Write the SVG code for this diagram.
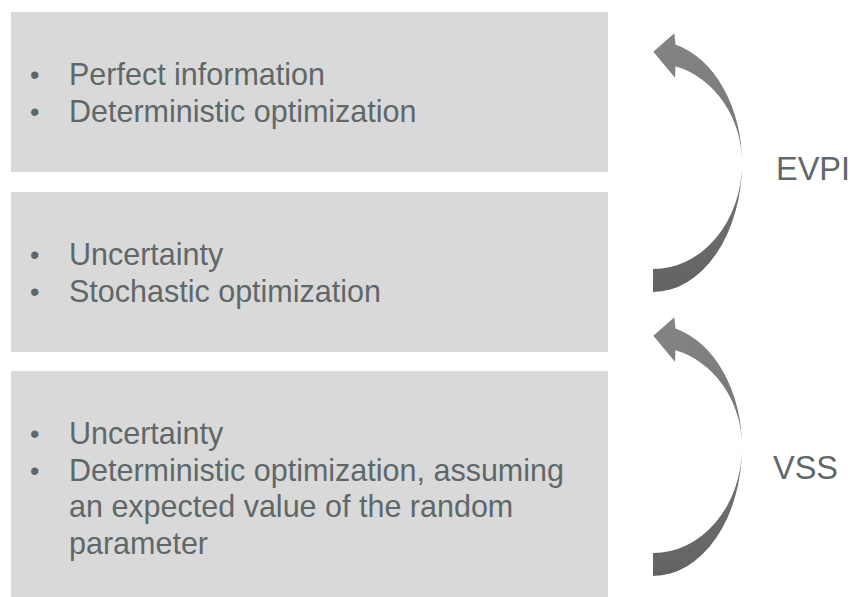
<svg xmlns="http://www.w3.org/2000/svg" width="852" height="597" viewBox="0 0 852 597">
  <defs>
    <!-- vertical shading of the curved arrows -->
    <linearGradient id="arrowShade" x1="0" y1="0" x2="0" y2="1">
      <stop offset="0" stop-color="#858585"/>
      <stop offset="1" stop-color="#636363"/>
    </linearGradient>
    <!-- curved left arrow: head at top-left, body bulging to the right -->
    <path id="curvedArrow" d="M653.3,51.7 L674.3,33.3 L675.5,44.5 A89,122.5 0 0 1 742,163 A89,129 0 0 1 653,292 L653,269 A89,106 0 0 0 742,163 A89,100 0 0 0 675.5,66.3 L675,77.7 Z"/>
  </defs>
  <style>
    .box { fill: #d9d9d9; }
    .txt { font-family: "Liberation Sans", Arial, sans-serif; font-size: 30.5px; fill: #5f6869; }
    .bul { font-family: "Liberation Sans", Arial, sans-serif; font-size: 27px; fill: #5f6869; }
    .lbl { font-family: "Liberation Sans", Arial, sans-serif; font-size: 32.5px; fill: #5f6869; }
    .arrow { fill: url(#arrowShade); }
  </style>

  <rect width="852" height="597" fill="#ffffff"/>

  <g id="box-perfect-information">
    <rect class="box" x="11" y="12" width="597" height="160"/>
    <text class="bul" x="30" y="84">•</text>
    <text class="txt" x="69" y="85">Perfect information</text>
    <text class="bul" x="30" y="120.7">•</text>
    <text class="txt" x="69" y="121.7">Deterministic optimization</text>
  </g>

  <g id="box-stochastic">
    <rect class="box" x="11" y="192" width="597" height="160"/>
    <text class="bul" x="30" y="264">•</text>
    <text class="txt" x="69" y="265">Uncertainty</text>
    <text class="bul" x="30" y="300.5">•</text>
    <text class="txt" x="69" y="301.5">Stochastic optimization</text>
  </g>

  <g id="box-expected-value">
    <rect class="box" x="11" y="371" width="597" height="226"/>
    <text class="bul" x="30" y="442.5">•</text>
    <text class="txt" x="69" y="443.5">Uncertainty</text>
    <text class="bul" x="30" y="479.5">•</text>
    <text class="txt" x="69" y="480.5">Deterministic optimization, assuming</text>
    <text class="txt" x="69" y="517">an expected value of the random</text>
    <text class="txt" x="69" y="553.5">parameter</text>
  </g>

  <g id="connectors">
    <g id="arrow-evpi">
      <use href="#curvedArrow" class="arrow"/>
    </g>
    <g id="arrow-vss" transform="translate(0,284)">
      <use href="#curvedArrow" class="arrow"/>
    </g>
  </g>

  <g id="label-evpi">
    <text class="lbl" x="776" y="179.5">EVPI</text>
  </g>
  <g id="label-vss">
    <text class="lbl" x="773" y="479">VSS</text>
  </g>
</svg>
